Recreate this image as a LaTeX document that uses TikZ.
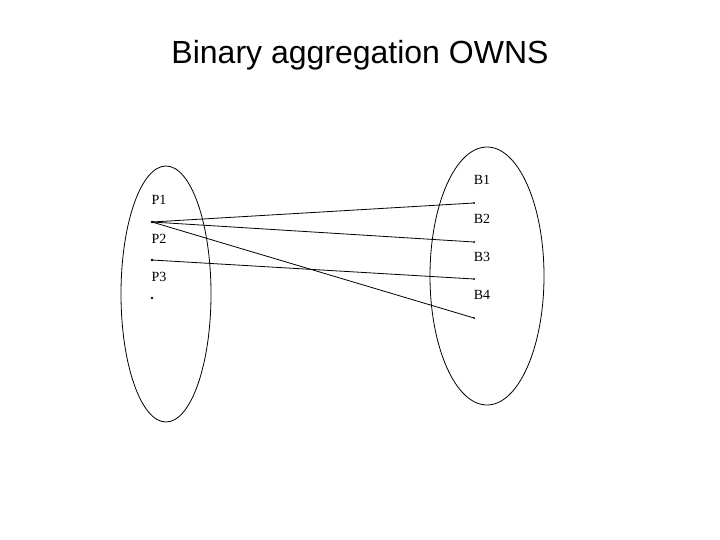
\documentclass[tikz,border=0pt]{standalone}
\usepackage{fontspec}
\setmainfont{Liberation Serif}
\newfontfamily\titlefont{Liberation Sans}
\usepackage{tikz}

\begin{document}
\begin{tikzpicture}[x=1pt,y=-1pt,line width=0.8pt,
  elt/.style={circle,fill=black,inner sep=0pt,minimum size=2.8pt},
  lbl/.style={font=\fontsize{14}{14}\selectfont}]
\useasboundingbox (0,0) rectangle (720,540);
\path(360,55) node (title) {\titlefont\fontsize{32}{32}\selectfont Binary aggregation OWNS};
% the two sets
\draw (166,294) ellipse (45 and 128);
\draw (487,276) ellipse (57 and 129);
% elements of P
\node[elt] (p1) at (152,222) {};
\node[elt] (p2) at (152,260) {};
\node[elt] (p3) at (152,298) {};
\path(159,200) [lbl] node (lp1) {P1};
\path(159,239) [lbl] node (lp2) {P2};
\path(159,277) [lbl] node (lp3) {P3};
% elements of B
\node[elt,minimum size=2pt] (b1) at (474,203) {};
\node[elt,minimum size=2pt] (b2) at (474,242) {};
\node[elt,minimum size=2pt] (b3) at (474,279) {};
\node[elt,minimum size=2pt] (b4) at (474,318) {};
\path(482,180) [lbl] node (lb1) {B1};
\path(482,219) [lbl] node (lb2) {B2};
\path(482,257) [lbl] node (lb3) {B3};
\path(482,295) [lbl] node (lb4) {B4};
% owns
\draw (p1.center) -- (b1.center);
\draw (p1.center) -- (b2.center);
\draw (p1.center) -- (b4.center);
\draw (p2.center) -- (b3.center);
\end{tikzpicture}
\end{document}
